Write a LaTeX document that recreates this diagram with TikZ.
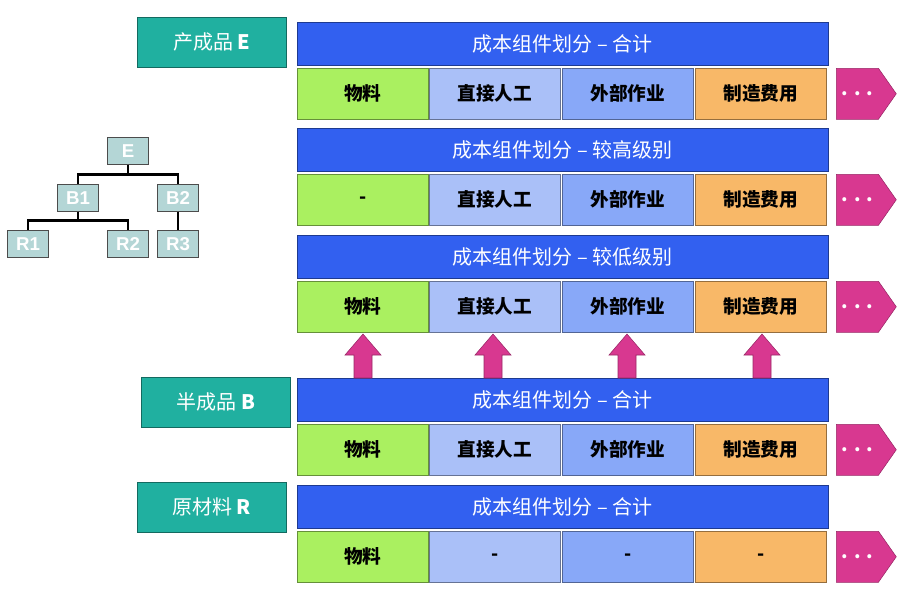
\documentclass[tikz,border=0pt]{standalone}
\usepackage{fontspec}
\setmainfont{Noto Sans CJK SC}
\setsansfont{Liberation Sans}
\usetikzlibrary{positioning,shapes.symbols}
\definecolor{barblue}{RGB}{50,96,240}
\definecolor{matgreen}{RGB}{170,240,96}
\definecolor{labblue}{RGB}{170,192,248}
\definecolor{extblue}{RGB}{136,168,248}
\definecolor{ovhorange}{RGB}{248,184,104}
\definecolor{dotpink}{RGB}{216,56,144}
\definecolor{prodteal}{RGB}{32,176,160}
\definecolor{treegray}{RGB}{180,214,214}
\tikzset{
  titlebar/.style={draw=barblue!60!black,fill=barblue,minimum width=531*0.75pt,minimum height=43*0.75pt,inner sep=0pt,anchor=north west,text=white,font=\fontsize{15}{17}\selectfont},
  cell/.style={draw=#1!60!black,fill=#1,minimum width=131*0.75pt,minimum height=51*0.75pt,inner sep=0pt,anchor=north west,font=\fontsize{14}{16}\selectfont\bfseries},
  prodbox/.style={draw=prodteal!60!black,fill=prodteal,minimum width=149*0.75pt,minimum height=50*0.75pt,inner sep=0pt,anchor=north west,text=white,font=\fontsize{15}{17}\selectfont},
  treebox/.style={draw=black!70,fill=treegray,minimum width=41*0.75pt,minimum height=27*0.75pt,inner sep=0pt,text=white,font=\sffamily\bfseries\fontsize{14}{16}\selectfont},
  more/.style={signal,signal to=east,signal pointer angle=110,fill=dotpink,draw=dotpink!70!black,minimum width=60*0.75pt,minimum height=51*0.75pt,inner sep=0pt,anchor=north west,text=white,font=\bfseries\fontsize{14}{16}\selectfont},
  uparrow/.style={fill=dotpink,draw=dotpink!70!black}
}
\newcommand{\costgroup}[7]{% name, top y, title, four cells
  \node[titlebar] (#1t) at (297,#2) {#3};
  \node[cell=matgreen]   (#1a) at (297,#2+46) {#4};
  \node[cell=labblue]    (#1b) at (429,#2+46) {#5};
  \node[cell=extblue]    (#1c) at (562,#2+46) {#6};
  \node[cell=ovhorange]  (#1d) at (695,#2+46) {#7};
  \node[more] (#1m) at (836,#2+46) {. . .};
}
\begin{document}
\begin{tikzpicture}[x=0.75pt,y=0.75pt,yscale=-1]
\useasboundingbox (0,0) rectangle (922,593);
% cost groups
\costgroup{g1}{22}{成本组件划分 – 合计}{物料}{直接人工}{外部作业}{制造费用}
\costgroup{g2}{128}{成本组件划分 – 较高级别}{-}{直接人工}{外部作业}{制造费用}
\costgroup{g3}{235}{成本组件划分 – 较低级别}{物料}{直接人工}{外部作业}{制造费用}
\costgroup{g4}{378}{成本组件划分 – 合计}{物料}{直接人工}{外部作业}{制造费用}
\costgroup{g5}{485}{成本组件划分 – 合计}{物料}{-}{-}{-}
% product labels
\node[prodbox] (pE) at (137,17) {产成品 \textbf{E}};
\node[prodbox] (pB) at (141,377) {半成品 \textbf{B}};
\node[prodbox] (pR) at (137,482) {原材料 \textbf{R}};
% roll-up arrows
\foreach \x in {363,493,627,762}
  \draw[uparrow] (\x-9,378) -- (\x-9,355) -- (\x-18,355) -- (\x,334)
    -- (\x+18,355) -- (\x+9,355) -- (\x+9,378) -- cycle;
% structure tree
\node[treebox] (tE)  at (128,151) {E};
\node[treebox] (tB1) at (78,198) {B1};
\node[treebox] (tB2) at (178,198) {B2};
\node[treebox] (tR1) at (28,244) {R1};
\node[treebox] (tR2) at (128,244) {R2};
\node[treebox] (tR3) at (178,244) {R3};
\draw[line width=2pt] (tE.south) -- ++(0,10) -| (tB1.north);
\draw[line width=2pt] (tE.south) -- ++(0,10) -| (tB2.north);
\draw[line width=2pt] (tB1.south) -- ++(0,9) -| (tR1.north);
\draw[line width=2pt] (tB1.south) -- ++(0,9) -| (tR2.north);
\draw[line width=2pt] (tB2.south) -- (tR3.north);
\end{tikzpicture}
\end{document}
